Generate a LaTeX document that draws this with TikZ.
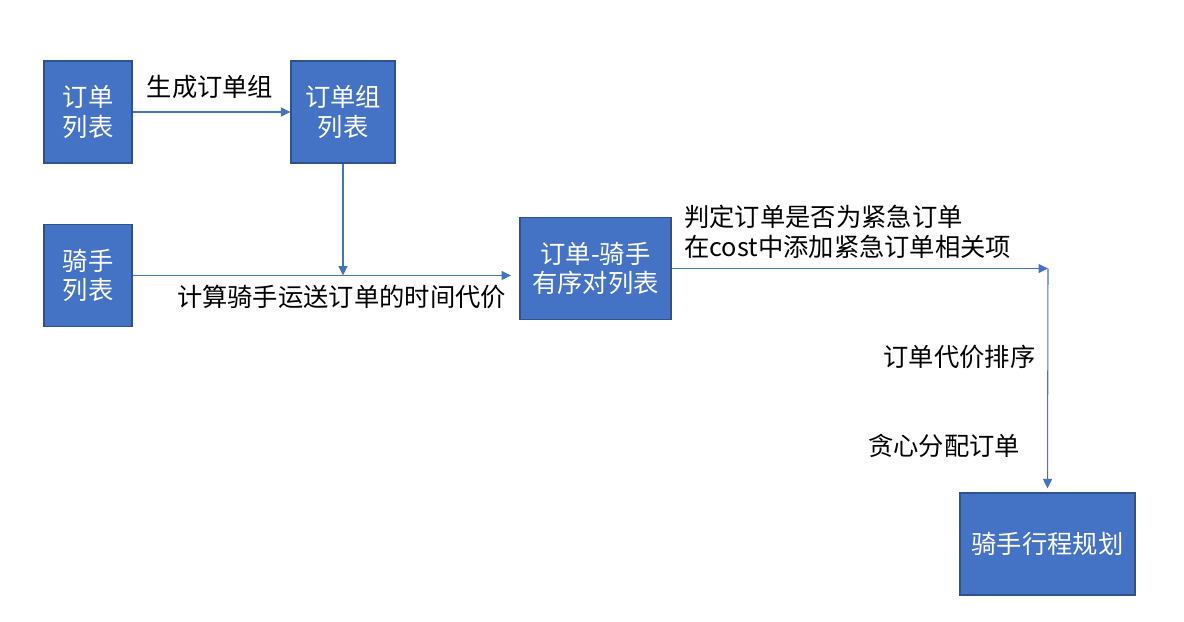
\documentclass[tikz,border=0pt]{standalone}
\usepackage{fontspec}
\setmainfont{Noto Sans CJK SC}
\usetikzlibrary{arrows.meta,positioning,calc}
\definecolor{boxFill}{HTML}{4472C4}
\definecolor{boxEdge}{HTML}{2F528F}
\definecolor{lineBlue}{HTML}{4472C4}
\begin{document}
\begin{tikzpicture}[x=0.02cm,y=-0.02cm]
	%defines
	\tikzstyle{listBox} = [rectangle, minimum height=2.04cm, inner sep=0pt, align=center, text centered, fill=boxFill, draw=boxEdge, line width=0.6pt, text=white, font=\fontsize{14.4}{17}\selectfont]
	\tikzstyle{stepText} = [inner sep=0pt, align=left, text=black, font=\fontsize{14.4}{17}\selectfont]
	\tikzstyle{arrow} = [draw=lineBlue, line width=0.6pt, -{Triangle[length=1.9mm,width=1.8mm]}]
	\useasboundingbox (0,0) rectangle (1184,622);
	%chart
	\node (ordList) [listBox, minimum width=1.76cm] at (88,112) {订单\\列表};
	\node (grpList) [listBox, minimum width=2.08cm] at (343,112) {订单组\\列表};
	\node (riderList) [listBox, minimum width=1.76cm] at (88,275.5) {骑手\\列表};
	\node (pairList) [listBox, minimum width=3.02cm] at (595.5,268.5) {订单-骑手\\有序对列表};
	\node (routePlan) [listBox, minimum width=3.5cm] at (1047.5,544) {骑手行程规划};
	\coordinate (joinA) at (343,275.5);
	\coordinate (pairIn) at (511,275.5);
	\coordinate (turnB) at (1048,268.5);
	%labels
	\node (lblGroup) [stepText] at (210,87) {生成订单组};
	\node (lblCost) [stepText] at (341.5,297) {计算骑手运送订单的时间代价};
	\node (lblUrgent) [stepText, anchor=west] at (684,232) {判定订单是否为紧急订单\\在cost中添加紧急订单相关项};
	\node (lblSort) [stepText] at (959.5,357) {订单代价排序};
	\node (lblGreedy) [stepText] at (944,446) {贪心分配订单};
	%connectors
	\draw [arrow] (ordList) -- (grpList);
	\draw [arrow] (grpList) -- (joinA);
	\draw [arrow] (riderList) -- (pairIn);
	\draw [arrow] (pairList) -- (turnB);
	\draw [arrow] (turnB) -- ([yshift=0.08cm]routePlan.north);
\end{tikzpicture}
\end{document}
